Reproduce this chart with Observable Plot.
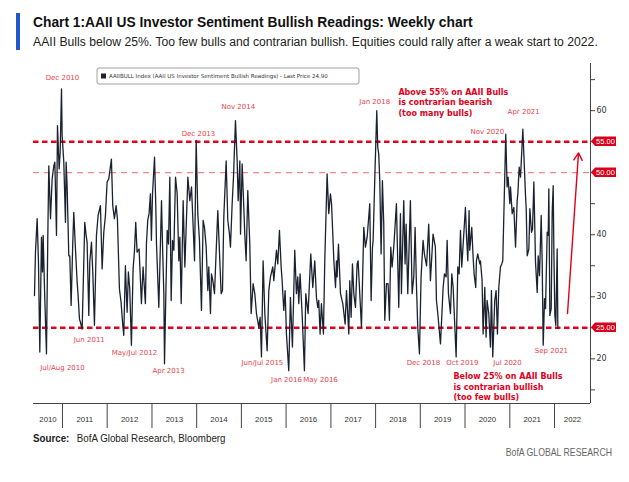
<!DOCTYPE html>
<html><head><meta charset="utf-8">
<script src="https://cdn.jsdelivr.net/npm/d3@7"></script>
<script src="https://cdn.jsdelivr.net/npm/@observablehq/plot@0.6"></script>
<style>
body{margin:0;background:#fff;width:629px;height:482px;overflow:hidden;font-family:"Liberation Sans",sans-serif;}
#hdr{position:relative;height:56px}
#bar{position:absolute;left:16px;top:13px;width:4px;height:37px;background:#1f5ac8}
#title{position:absolute;left:33px;top:14px;font-weight:bold;font-size:14px;color:#111;white-space:nowrap;transform:scaleX(0.985);transform-origin:left}
#sub{position:absolute;left:33px;top:35px;font-size:12.5px;color:#222;white-space:nowrap;transform:scaleX(0.975);transform-origin:left}
#chart{height:374px}
#foot{position:relative;height:52px}
#src{position:absolute;left:33px;top:2px;font-size:10.5px;color:#222;white-space:nowrap;transform:scaleX(0.93);transform-origin:left}
#src b{margin-right:8px}
#brand{position:absolute;right:17px;top:16px;font-size:10.5px;color:#666;white-space:nowrap;transform:scaleX(0.83);transform-origin:right}
</style></head>
<body>
<div id="hdr"><div id="bar"></div>
<div id="title">Chart 1:AAII US Investor Sentiment Bullish Readings: Weekly chart</div>
<div id="sub">AAII Bulls below 25%. Too few bulls and contrarian bullish. Equities could rally after a weak start to 2022.</div>
</div>
<div id="chart"></div>
<div id="foot"><div id="src"><b>Source:</b>BofA Global Research, Bloomberg</div>
<div id="brand">BofA GLOBAL RESEARCH</div></div>
<script>
// weekly AAII bullish readings (decimal year, % bulls)
const series2010 = [[2010.374,30.2],[2010.396,37.2],[2010.434,42.6],[2010.463,35.6],[2010.493,21.1],[2010.530,39.6],[2010.553,34.0],[2010.568,39.9],[2010.598,31.3],[2010.642,20.8],[2010.672,39.9],[2010.694,51.1],[2010.732,42.6],[2010.769,49.0],[2010.806,51.1],[2010.829,51.7],[2010.866,39.9],[2010.888,57.6],[2010.925,50.6],[2010.948,53.3],[2010.978,63.5],[2010.992,56.0]];
const series2011 = [[2011.030,51.7],[2011.067,42.0],[2011.082,51.7],[2011.104,47.9],[2011.142,36.6],[2011.164,36.6],[2011.194,28.6],[2011.231,38.8],[2011.253,43.6],[2011.291,37.7],[2011.328,32.4],[2011.350,30.2],[2011.380,26.4],[2011.402,25.9],[2011.440,24.8],[2011.499,42.0],[2011.529,39.9],[2011.551,38.8],[2011.589,27.0],[2011.611,35.6],[2011.648,38.8],[2011.678,34.0],[2011.715,25.4],[2011.760,39.9],[2011.797,43.1],[2011.849,44.7],[2011.887,34.5],[2011.924,40.4],[2011.961,43.1],[2011.998,48.5]];
const series2012 = [[2012.036,49.0],[2012.095,52.2],[2012.125,44.7],[2012.162,42.6],[2012.200,44.7],[2012.229,42.6],[2012.274,31.3],[2012.311,29.1],[2012.349,25.4],[2012.371,23.8],[2012.408,35.0],[2012.446,27.5],[2012.475,34.0],[2012.505,31.3],[2012.542,22.2],[2012.580,34.5],[2012.609,37.2],[2012.639,42.0],[2012.669,37.2],[2012.714,37.7],[2012.766,28.9],[2012.803,34.8],[2012.855,28.9],[2012.878,38.5],[2012.907,42.3],[2012.937,43.4],[2012.967,46.6],[2012.989,39.1]];
const series2013 = [[2013.012,46.6],[2013.057,52.5],[2013.086,44.4],[2013.101,38.5],[2013.153,28.3],[2013.213,45.5],[2013.235,38.5],[2013.265,30.5],[2013.280,19.2],[2013.310,30.5],[2013.340,40.7],[2013.369,38.5],[2013.399,49.3],[2013.429,29.4],[2013.459,39.1],[2013.489,37.5],[2013.526,49.3],[2013.563,46.6],[2013.600,35.8],[2013.623,39.6],[2013.653,28.9],[2013.697,45.5],[2013.735,34.8],[2013.802,49.3],[2013.846,45.5],[2013.884,47.7],[2013.921,41.2],[2013.951,35.8],[2013.988,55.2]];
const series2014 = [[2014.025,43.4],[2014.062,39.1],[2014.107,27.8],[2014.144,42.3],[2014.174,41.2],[2014.212,38.0],[2014.249,31.0],[2014.271,34.8],[2014.308,27.3],[2014.331,33.7],[2014.361,32.6],[2014.398,30.5],[2014.442,38.5],[2014.472,43.9],[2014.502,38.5],[2014.547,30.5],[2014.577,31.0],[2014.606,42.8],[2014.659,51.9],[2014.696,42.3],[2014.733,40.1],[2014.755,38.0],[2014.793,45.0],[2014.823,49.3],[2014.867,58.4],[2014.905,51.9],[2014.927,45.5],[2014.965,51.9],[2014.980,40.1]];
const series2015 = [[2015.017,51.4],[2015.054,44.4],[2015.076,40.1],[2015.106,35.8],[2015.143,47.1],[2015.188,38.5],[2015.218,27.3],[2015.263,32.1],[2015.300,30.5],[2015.337,27.3],[2015.389,25.1],[2015.419,26.7],[2015.449,20.3],[2015.486,35.8],[2015.524,27.3],[2015.576,21.3],[2015.613,31.0],[2015.650,33.2],[2015.702,34.8],[2015.725,32.6],[2015.784,37.5],[2015.814,35.3],[2015.851,40.7],[2015.889,34.8],[2015.911,32.6],[2015.948,27.8],[2015.978,31.0]];
const series2016 = [[2016.008,24.0],[2016.060,18.1],[2016.097,29.9],[2016.142,21.9],[2016.194,37.5],[2016.231,30.5],[2016.261,33.2],[2016.284,28.9],[2016.313,33.7],[2016.358,27.3],[2016.410,18.1],[2016.440,30.5],[2016.492,27.3],[2016.552,36.9],[2016.597,31.5],[2016.641,35.8],[2016.679,29.9],[2016.708,28.3],[2016.730,29.4],[2016.760,24.0],[2016.790,28.9],[2016.835,24.0],[2016.865,35.8],[2016.917,49.8],[2016.954,43.4],[2016.992,46.6]];
const series2017 = [[2017.014,45.0],[2017.036,41.2],[2017.066,35.8],[2017.103,31.5],[2017.124,35.8],[2017.139,33.2],[2017.169,38.5],[2017.214,30.5],[2017.266,28.9],[2017.318,25.6],[2017.348,31.0],[2017.400,24.0],[2017.422,32.6],[2017.452,26.7],[2017.482,35.3],[2017.512,30.5],[2017.549,28.3],[2017.586,35.3],[2017.608,35.8],[2017.683,25.1],[2017.735,41.2],[2017.772,38.0],[2017.810,39.6],[2017.869,45.0],[2017.899,29.4],[2017.929,38.0],[2017.944,39.1],[2017.988,50.9]];
const series2018 = [[2018.026,60.0],[2018.048,54.1],[2018.070,53.0],[2018.093,48.7],[2018.123,36.9],[2018.152,48.7],[2018.182,41.7],[2018.205,26.2],[2018.242,32.1],[2018.279,32.1],[2018.309,26.2],[2018.339,38.0],[2018.369,34.8],[2018.406,38.0],[2018.465,45.0],[2018.518,28.3],[2018.555,43.4],[2018.577,30.5],[2018.629,45.5],[2018.659,35.3],[2018.682,41.7],[2018.719,30.5],[2018.778,45.5],[2018.816,30.5],[2018.853,33.2],[2018.883,41.2],[2018.912,32.1],[2018.942,25.1],[2018.980,20.8]];
const series2019 = [[2019.017,33.2],[2019.062,39.1],[2019.091,36.9],[2019.140,35.0],[2019.188,41.7],[2019.226,32.6],[2019.285,40.1],[2019.337,38.0],[2019.361,29.4],[2019.391,27.3],[2019.451,22.4],[2019.510,31.5],[2019.540,33.7],[2019.577,33.2],[2019.600,39.1],[2019.629,30.5],[2019.674,27.3],[2019.704,33.7],[2019.734,31.5],[2019.801,20.3],[2019.838,34.8],[2019.868,33.7],[2019.898,40.7],[2019.927,34.8],[2019.972,40.1]];
const series2020 = [[2020.009,44.4],[2020.032,40.1],[2020.062,35.8],[2020.091,43.9],[2020.106,37.5],[2020.151,41.2],[2020.181,36.4],[2020.203,33.7],[2020.240,31.5],[2020.255,35.8],[2020.285,36.9],[2020.330,35.3],[2020.345,35.8],[2020.382,32.6],[2020.404,24.0],[2020.442,31.5],[2020.471,23.5],[2020.494,29.4],[2020.531,27.3],[2020.568,21.9],[2020.591,31.0],[2020.620,20.3],[2020.665,29.4],[2020.695,31.0],[2020.725,24.0],[2020.755,31.5],[2020.792,34.8],[2020.822,35.3],[2020.844,35.8],[2020.911,56.2],[2020.941,47.7],[2020.963,49.3]];
const series2021 = [[2021.000,45.0],[2021.015,47.7],[2021.053,43.4],[2021.090,44.4],[2021.127,38.0],[2021.164,45.5],[2021.179,46.6],[2021.209,50.9],[2021.239,49.3],[2021.291,57.0],[2021.314,52.8],[2021.351,46.3],[2021.366,44.2],[2021.388,36.6],[2021.425,37.7],[2021.448,44.2],[2021.485,40.4],[2021.507,40.9],[2021.537,48.5],[2021.574,35.6],[2021.612,30.7],[2021.634,36.6],[2021.664,33.4],[2021.701,43.1],[2021.723,35.6],[2021.746,22.2],[2021.776,29.7],[2021.798,28.1],[2021.835,40.4],[2021.858,39.9],[2021.872,47.4],[2021.895,27.0],[2021.925,28.1],[2021.947,43.6],[2021.969,47.9],[2021.984,37.7]];
const series2022 = [[2022.007,27.0],[2022.029,25.4],[2022.059,37.7],[2022.074,24.9]];

const thresholdsStrong = [55, 25];
const thresholdsWeak = [50];
const tagLevels = [55, 50, 25];
const yMajorTicks = [20, 30, 40, 60];
const yMinorTicks = [15, 25, 35, 45, 50, 55, 65];
const years = [2010, 2011, 2012, 2013, 2014, 2015, 2016, 2017, 2018, 2019, 2020, 2021, 2022];
const xRange = [2010.352, 2022.804];
const yRange = [12.8, 67.6];
const legendName = "AAIIBULL Index (AAII US Investor Sentiment Bullish Readings) - Last Price";

const peakNotes = [
  {label: "Dec 2010", t: 2011.00, v: 65.3},
  {label: "Nov 2014", t: 2014.93, v: 60.6},
  {label: "Dec 2013", t: 2014.04, v: 56.3},
  {label: "Jan 2018", t: 2017.98, v: 61.4},
  {label: "Nov 2020", t: 2020.50, v: 56.6},
  {label: "Apr 2021", t: 2021.31, v: 59.8},
  {label: "Jul/Aug 2010", t: 2011.00, v: 18.6},
  {label: "Jun 2011", t: 2011.60, v: 23.0},
  {label: "May/Jul 2012", t: 2012.61, v: 20.9},
  {label: "Apr 2013", t: 2013.37, v: 18.0},
  {label: "Jun/Jul 2015", t: 2015.47, v: 19.3},
  {label: "Jan 2016", t: 2016.01, v: 16.7},
  {label: "May 2016", t: 2016.77, v: 16.7},
  {label: "Dec 2018", t: 2019.07, v: 19.4},
  {label: "Oct 2019", t: 2019.94, v: 19.4},
  {label: "Jul 2020", t: 2020.95, v: 19.4},
  {label: "Sep 2021", t: 2021.93, v: 21.3}
];
const boldNotes = [
  {label: "Above 55% on AAII Bulls\nis contrarian bearish\n(too many bulls)", t: 2018.51, v: 61.4},
  {label: "Below 25% on AAII Bulls\nis contrarian bullish\n(too few bulls)", t: 2019.74, v: 15.55}
];
const arrowNote = [{t1: 2022.29, v1: 27.3, t2: 2022.536, v2: 53.2}];

const toDate = t => { const y = Math.floor(t); return new Date(Date.UTC(y, 0, 1) + (t - y) * 365.25 * 864e5); };
const bulls = [].concat(series2010, series2011, series2012, series2013, series2014, series2015, series2016,
  series2017, series2018, series2019, series2020, series2021, series2022).map(([t, v]) => ({date: toDate(t), value: v}));
const xDomain = xRange.map(toDate);
const yearStarts = years.slice(1).map(y => new Date(Date.UTC(y, 0, 1)));
const yearMids = years.map(y => {
  const a = Math.max(+new Date(Date.UTC(y, 0, 1)), +xDomain[0]);
  const b = Math.min(+new Date(Date.UTC(y + 1, 0, 1)), +xDomain[1]);
  return new Date((a + b) / 2);
});
const notes = peakNotes.map(d => ({...d, date: toDate(d.t)}));
const bold = boldNotes.map(d => ({...d, date: toDate(d.t)}));
const arrows = arrowNote.map(d => ({x1: toDate(d.t1), y1: d.v1, x2: toDate(d.t2), y2: d.v2}));
const red = "#e3001b";

const chart = Plot.plot({
  width: 629, height: 374,
  marginTop: 7, marginBottom: 27, marginLeft: 33, marginRight: 39,
  style: {fontFamily: "DejaVu Sans", fontSize: "8px", color: "#333", background: "transparent", overflow: "visible"},
  x: {type: "utc", domain: xDomain},
  y: {domain: yRange},
  marks: [
    Plot.ruleY(thresholdsWeak, {stroke: "#ee6a6a", strokeWidth: 1, strokeDasharray: "6,5"}),
    Plot.ruleY(thresholdsStrong, {stroke: red, strokeWidth: 2.4, strokeDasharray: "5.5,3.5"}),
    Plot.line(bulls, {x: "date", y: "value", stroke: "#1a2130", strokeWidth: 1.3}),
    Plot.ruleY([yRange[0]], {stroke: "#444", strokeWidth: 1}),
    Plot.ruleX([xDomain[1]], {stroke: "#444", strokeWidth: 1}),
    Plot.axisX({ticks: yearStarts, tickSize: 25, tickFormat: () => "", stroke: "#444"}),
    Plot.axisX({ticks: yearMids, tickSize: 0, tickPadding: 13, tickFormat: d => String(d.getUTCFullYear()),
      fontFamily: "Liberation Sans", fontSize: 7.8, fill: "#333"}),
    Plot.axisY({anchor: "right", ticks: yMajorTicks, tickSize: 4, tickPadding: 2, fontSize: 8, stroke: "#444"}),
    Plot.axisY({anchor: "right", ticks: yMinorTicks, tickSize: 4, tickFormat: () => "", stroke: "#444"}),
    Plot.text(notes, {x: "date", y: "v", text: "label", fill: "#e8414d", fontSize: 7}),
    Plot.text(bold, {x: "date", y: "v", text: "label", fill: red, fontSize: 8, fontWeight: "bold",
      textAnchor: "start", lineAnchor: "middle", lineHeight: 1.32}),
    Plot.arrow(arrows, {x1: "x1", y1: "y1", x2: "x2", y2: "y2", stroke: red, strokeWidth: 1.4, headLength: 9})
  ]
});

const svg = d3.select(chart);
const ys = chart.scale("y");
const xs = chart.scale("x");
const xr = xs.apply(xDomain[1]);
tagLevels.forEach(v => {
  const y = ys.apply(v);
  const g = svg.append("g");
  g.append("polygon")
    .attr("points", [[xr + 1, y], [xr + 5, y - 4.8], [xr + 26, y - 4.8], [xr + 26, y + 4.8], [xr + 5, y + 4.8]].map(p => p.join(",")).join(" "))
    .attr("fill", "#d9001b");
  g.append("text").attr("x", xr + 15.5).attr("y", y).attr("dy", "0.35em").attr("text-anchor", "middle")
    .attr("fill", "#fff").attr("font-family", "Liberation Sans").attr("font-size", 7.5).text(v.toFixed(2));
});
const lastVal = bulls[bulls.length - 1].value;
const lg = svg.append("g");
lg.append("rect").attr("x", 97).attr("y", 12).attr("width", 262).attr("height", 16).attr("rx", 2)
  .attr("fill", "#fff").attr("stroke", "#8a8a8a").attr("stroke-width", 0.8);
lg.append("rect").attr("x", 101).attr("y", 17.5).attr("width", 5).attr("height", 5).attr("fill", "#1b2433");
lg.append("text").attr("x", 109).attr("y", 20).attr("dy", "0.35em").attr("text-anchor", "start")
  .attr("font-family", "DejaVu Sans").attr("font-size", 5.5).attr("fill", "#333")
  .text(legendName + " " + lastVal.toFixed(2));
document.getElementById("chart").appendChild(chart);
</script>
</body></html>
